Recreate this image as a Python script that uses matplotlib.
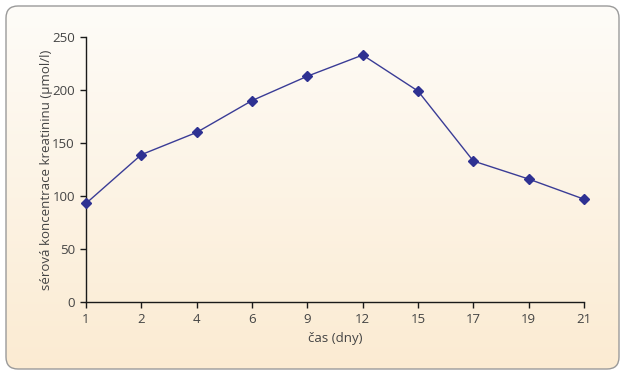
import numpy as np
import matplotlib
matplotlib.use("Agg")
import matplotlib.pyplot as plt
from matplotlib.patches import FancyBboxPatch

days = ["1", "2", "4", "6", "9", "12", "15", "17", "19", "21"]
creatinine = [93, 139, 160, 190, 213, 233, 199, 133, 116, 97]
yticks = [0, 50, 100, 150, 200, 250]

plt.rcParams['font.family'] = ['Open Sans', 'DejaVu Sans']

W, H = 627, 373
fig = plt.figure(figsize=(W / 100, H / 100), dpi=100)
fig.patch.set_facecolor("white")

# background rounded panel with gradient
bg = fig.add_axes([0, 0, 1, 1], zorder=-5)
bg.set_xlim(0, W)
bg.set_ylim(H, 0)
bg.axis("off")
box = FancyBboxPatch((6, 6), 613, 363, boxstyle="round,pad=0,rounding_size=12",
                     facecolor="none", edgecolor="#9a9a9a", linewidth=1.0, zorder=3)
bg.add_patch(box)
top = np.array([0xFE, 0xFC, 0xF8]) / 255
bot = np.array([0xFB, 0xEB, 0xD2]) / 255
t = np.linspace(0, 1, 256)[:, None]
grad = (top[None, :] * (1 - t) + bot[None, :] * t)[:, None, :]
im = bg.imshow(grad, extent=(6, 619, 369, 6), aspect="auto", zorder=1)
im.set_clip_path(box)

ax = fig.add_axes([86 / W, (H - 302) / H, (584 - 86) / W, (302 - 37) / H])
ax.patch.set_alpha(0)
x = np.arange(len(days))
ax.plot(x, creatinine, color="#3a3c96", linewidth=1.0, marker="D",
        markersize=5.5, markerfacecolor="#2e3192", markeredgecolor="#2e3192",
        clip_on=False, zorder=5)

ax.set_xlim(0, len(days) - 1)
ax.set_ylim(0, 250)
ax.set_xticks(x)
ax.set_xticklabels(days)
ax.set_yticks(yticks)
for s in ["top", "right"]:
    ax.spines[s].set_visible(False)
for s in ["left", "bottom"]:
    ax.spines[s].set_color("#1a1a1a")
    ax.spines[s].set_linewidth(1.0)
ax.tick_params(axis="both", direction="out", length=4, width=1, color="#1a1a1a",
               labelsize=9.5, labelcolor="#444444", pad=4)
ax.set_xlabel("čas (dny)", fontsize=9.5, color="#444444", labelpad=4)
ax.set_ylabel("sérová koncentrace kreatininu (μmol/l)", fontsize=9.5,
              color="#444444")
ax.yaxis.set_label_coords(-0.066, 0.5)

fig.savefig("out.png", dpi=100, facecolor="white")
